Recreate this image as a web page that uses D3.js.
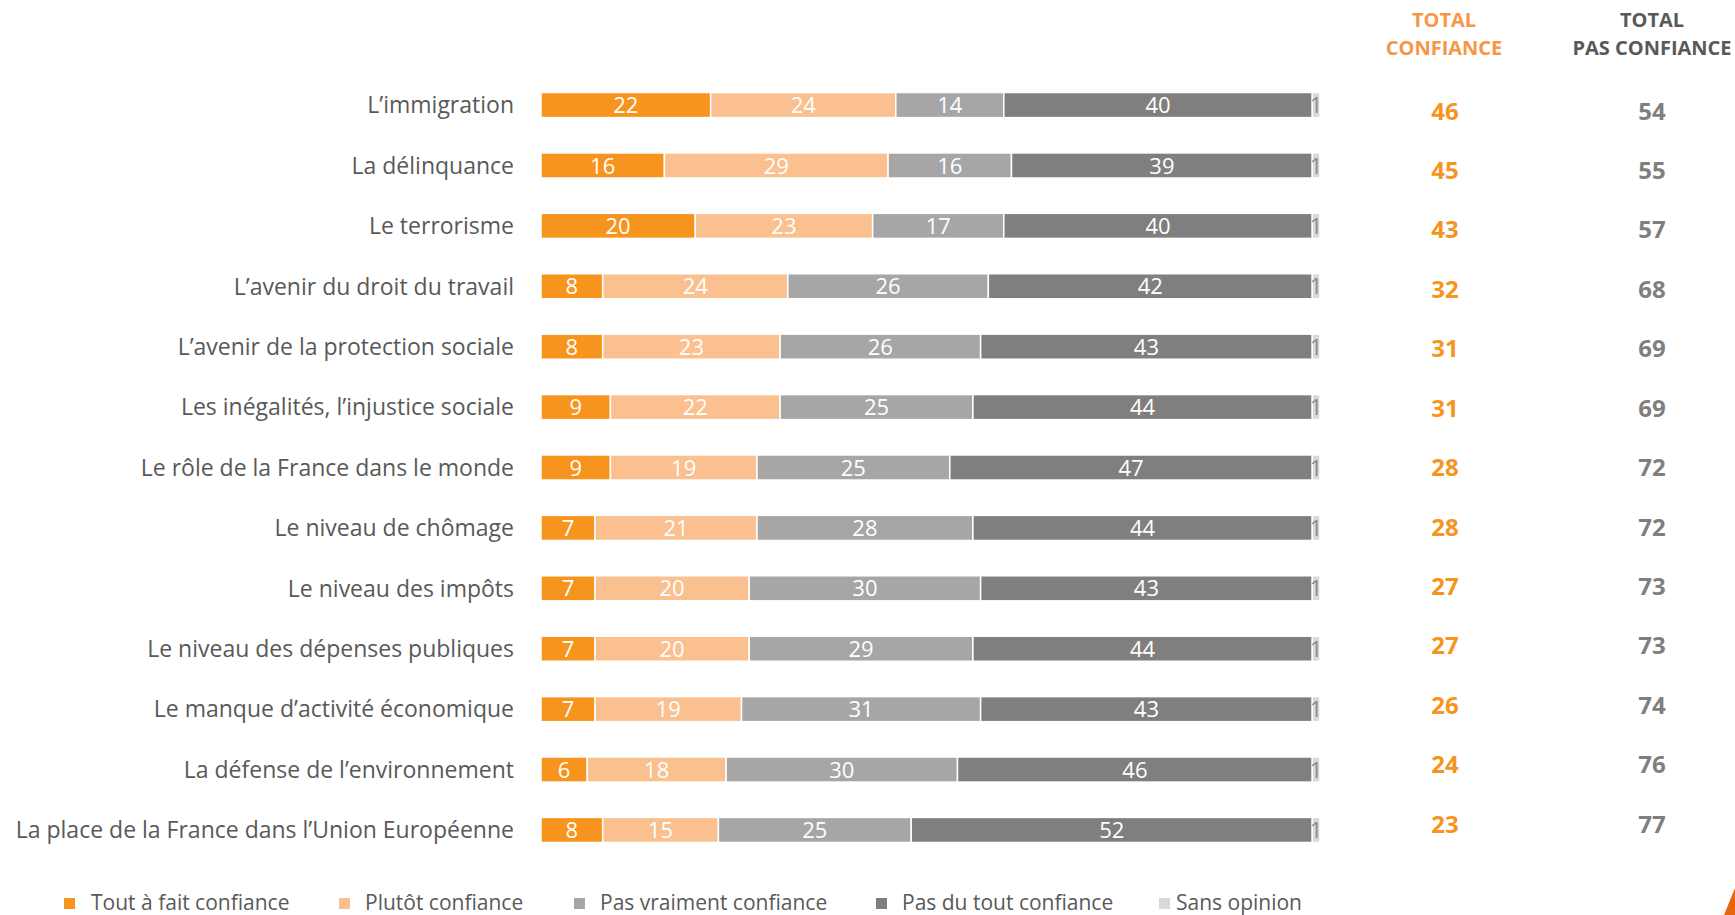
<!DOCTYPE html>
<html>

<head>
    <meta charset="UTF-8">
    <title>Confiance - barres empilées</title>
    <script src="https://d3js.org/d3.v7.min.js"></script>
    <style>
        body { margin: 0; background: #fff; }
        text { font-family: "Open Sans", sans-serif; }
    </style>
</head>

<body>
    <script>
        const categories = [
            "L’immigration",
            "La délinquance",
            "Le terrorisme",
            "L’avenir du droit du travail",
            "L’avenir de la protection sociale",
            "Les inégalités, l’injustice sociale",
            "Le rôle de la France dans le monde",
            "Le niveau de chômage",
            "Le niveau des impôts",
            "Le niveau des dépenses publiques",
            "Le manque d’activité économique",
            "La défense de l’environnement",
            "La place de la France dans l’Union Européenne"
        ];
        const seriesNames = ["Tout à fait confiance", "Plutôt confiance", "Pas vraiment confiance", "Pas du tout confiance", "Sans opinion"];
        const toutAFait = [22, 16, 20, 8, 8, 9, 9, 7, 7, 7, 7, 6, 8];
        const plutot = [24, 29, 23, 24, 23, 22, 19, 21, 20, 20, 19, 18, 15];
        const pasVraiment = [14, 16, 17, 26, 26, 25, 25, 28, 30, 29, 31, 30, 25];
        const pasDuTout = [40, 39, 40, 42, 43, 44, 47, 44, 43, 44, 43, 46, 52];
        const sansOpinion = [1, 1, 1, 1, 1, 1, 1, 1, 1, 1, 1, 1, 1];
        const totalConfiance = [46, 45, 43, 32, 31, 31, 28, 28, 27, 27, 26, 24, 23];
        const totalPasConfiance = [54, 55, 57, 68, 69, 69, 72, 72, 73, 73, 74, 76, 77];

        const colors = ["#F7941D", "#FAC090", "#A6A6A6", "#7F7F7F", "#D9D9D9"];

        const width = 1735, height = 915;

        // legend slot layout (square x, text x)
        const legendSquareX = [64, 339, 574, 876, 1159];
        const legendTextX = [91, 365, 600, 902, 1176];

        const rows = categories.map((c, i) => ({
            cat: c,
            s0: toutAFait[i], s1: plutot[i], s2: pasVraiment[i], s3: pasDuTout[i], s4: sansOpinion[i]
        }));
        const keys = ["s0", "s1", "s2", "s3", "s4"];
        const stacked = d3.stack().keys(keys)(rows);

        const x = d3.scaleLinear()
            .domain([0, d3.max(rows, d => keys.reduce((a, k) => a + d[k], 0))])
            .range([541, 1320]);

        const y = d3.scaleBand()
            .domain(categories)
            .range([75, 860])
            .paddingInner(0.585)
            .paddingOuter(0.29);

        // the totals table has its own, slightly tighter, row spacing
        const yTot = d3.scalePoint()
            .domain(categories)
            .range([111, 824]);

        const svg = d3.select("body").append("svg")
            .attr("width", width).attr("height", height);

        // category labels
        svg.append("g")
            .selectAll("text")
            .data(categories).enter().append("text")
            .attr("x", 514)
            .attr("y", d => y(d) + y.bandwidth() / 2)
            .attr("dy", "0.36em")
            .attr("text-anchor", "end")
            .attr("fill", "#595959")
            .style("font-size", "23px")
            .text(d => d);

        // bars
        const layer = svg.append("g")
            .selectAll("g")
            .data(stacked).enter().append("g")
            .attr("fill", (d, i) => colors[i]);

        layer.selectAll("rect")
            .data(d => d).enter().append("rect")
            .attr("x", d => x(d[0]))
            .attr("y", d => y(d.data.cat))
            .attr("width", d => x(d[1]) - x(d[0]))
            .attr("height", y.bandwidth())
            .attr("stroke", "#fff")
            .attr("stroke-width", 1.5);

        layer.selectAll("text")
            .data((d, i) => d.map(v => Object.assign(v, { si: i }))).enter().append("text")
            .attr("x", d => (x(d[0]) + x(d[1])) / 2)
            .attr("y", d => y(d.data.cat) + y.bandwidth() / 2)
            .attr("dy", "0.37em")
            .attr("text-anchor", "middle")
            .attr("fill", d => d.si === 4 ? "#8C8C8C" : "#fff")
            .style("font-size", "22px")
            .text(d => d[1] - d[0]);

        // totals
        const totals = svg.append("g");
        totals.append("text")
            .attr("x", 1444).attr("y", 27)
            .attr("text-anchor", "middle").attr("fill", "#F79646")
            .style("font-size", "20px").style("font-weight", "bold")
            .selectAll("tspan").data(["TOTAL", "CONFIANCE"]).enter().append("tspan")
            .attr("x", 1444).attr("dy", (d, i) => i ? 28 : 0)
            .text(d => d);
        totals.append("text")
            .attr("x", 1652).attr("y", 27)
            .attr("text-anchor", "middle").attr("fill", "#595959")
            .style("font-size", "20px").style("font-weight", "bold")
            .selectAll("tspan").data(["TOTAL", "PAS CONFIANCE"]).enter().append("tspan")
            .attr("x", 1652).attr("dy", (d, i) => i ? 28 : 0)
            .text(d => d);

        totals.selectAll(".tc")
            .data(totalConfiance).enter().append("text")
            .attr("class", "tc")
            .attr("x", 1445)
            .attr("y", (d, i) => yTot(categories[i]))
            .attr("dy", "0.36em")
            .attr("text-anchor", "middle")
            .attr("fill", "#F7941D")
            .style("font-size", "24px").style("font-weight", "bold")
            .text(d => d);

        totals.selectAll(".tp")
            .data(totalPasConfiance).enter().append("text")
            .attr("class", "tp")
            .attr("x", 1652)
            .attr("y", (d, i) => yTot(categories[i]))
            .attr("dy", "0.36em")
            .attr("text-anchor", "middle")
            .attr("fill", "#7F7F7F")
            .style("font-size", "24px").style("font-weight", "bold")
            .text(d => d);

        // legend
        const legend = svg.append("g")
            .selectAll("g")
            .data(seriesNames).enter().append("g");
        legend.append("rect")
            .attr("x", (d, i) => legendSquareX[i]).attr("y", 898)
            .attr("width", 11).attr("height", 11)
            .attr("fill", (d, i) => colors[i]);
        legend.append("text")
            .attr("x", (d, i) => legendTextX[i]).attr("y", 910)
            .attr("fill", "#595959")
            .style("font-size", "21px")
            .text(d => d);

        // corner mark
        svg.append("path")
            .attr("d", "M1735,888 L1724,915 L1735,915 Z")
            .attr("fill", "#E8650F");
    </script>
</body>

</html>
